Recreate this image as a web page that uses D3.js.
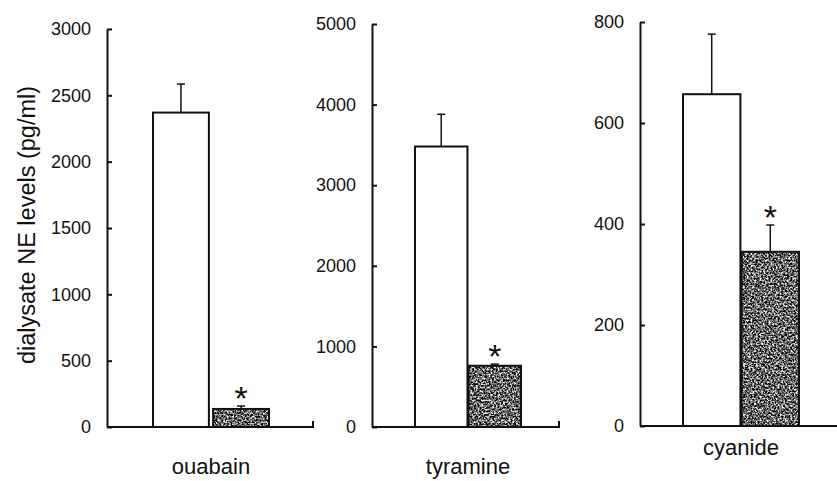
<!DOCTYPE html>
<html>
<head>
<meta charset="utf-8">
<script src="https://cdn.jsdelivr.net/npm/d3@7"></script>
<style>
  body { margin: 0; background: #fff; }
  svg { display: block; font-family: "Liberation Sans", Arial, sans-serif; }
  .tick text { font-size: 18px; fill: #111; }
</style>
</head>
<body>
<svg></svg>
<script>
// DATA
var categories = ["ouabain", "tyramine", "cyanide"];
var groups = ["control", "treated"];
var controlMeans = [2370, 3480, 657];
var controlErrors = [215, 400, 119];
var treatedMeans = [136, 760, 345];
var treatedErrors = [22, 20, 53];
var yMaxes = [3000, 5000, 800];
var tickSteps = [500, 1000, 200];
var yLabel = "dialysate NE levels (pg/ml)";

// LAYOUT (one entry per panel)
var panels = [
	{axisX: 107, top: 29, bottom: 427, right: 313, barL: 153, barR: 269, pad: 0.07, labelY: 474, endTick: true},
	{axisX: 372, top: 24, bottom: 427, right: 559, barL: 415, barR: 521, pad: 0.02, labelY: 474, endTick: true},
	{axisX: 640, top: 22, bottom: 426, right: 837, barL: 683, barR: 799, pad: 0.02, labelY: 455, endTick: false}
];

var width = 837, height = 481;
var svg = d3.select("svg").attr("width", width).attr("height", height);

// grainy grey fill for the treated bars
var defs = svg.append("defs");
var grain = defs.append("filter")
	.attr("id", "grain")
	.attr("x", 0).attr("y", 0).attr("width", 1).attr("height", 1)
	.attr("color-interpolation-filters", "sRGB");
grain.append("feTurbulence")
	.attr("type", "fractalNoise")
	.attr("baseFrequency", 0.55)
	.attr("numOctaves", 2)
	.attr("seed", 7)
	.attr("result", "noise");
grain.append("feColorMatrix")
	.attr("in", "noise")
	.attr("type", "matrix")
	.attr("values", "2.6 0 0 0 -0.9  2.6 0 0 0 -0.9  2.6 0 0 0 -0.9  0 0 0 0 1")
	.attr("result", "grey");
grain.append("feComposite")
	.attr("in", "grey")
	.attr("in2", "SourceGraphic")
	.attr("operator", "in");

categories.forEach(function(cat, i) {
	var p = panels[i];
	var g = svg.append("g");

	var y = d3.scaleLinear().domain([0, yMaxes[i]]).range([p.bottom, p.top]);
	var x = d3.scaleBand().domain(groups).range([p.barL, p.barR]).paddingInner(p.pad).paddingOuter(0);

	var rows = [
		{key: "control", mean: controlMeans[i], err: controlErrors[i]},
		{key: "treated", mean: treatedMeans[i], err: treatedErrors[i]}
	];

	// error bars (drawn first, bar tops cover the base)
	var eb = g.selectAll(".err").data(rows).enter().append("g").attr("class", "err");
	eb.append("line")
		.attr("x1", function(d) { return x(d.key) + x.bandwidth() / 2; })
		.attr("x2", function(d) { return x(d.key) + x.bandwidth() / 2; })
		.attr("y1", function(d) { return y(d.mean); })
		.attr("y2", function(d) { return y(d.mean + d.err); })
		.attr("stroke", "#111").attr("stroke-width", 1.5);
	eb.append("line")
		.attr("x1", function(d) { return x(d.key) + x.bandwidth() / 2 - 4; })
		.attr("x2", function(d) { return x(d.key) + x.bandwidth() / 2 + 4; })
		.attr("y1", function(d) { return y(d.mean + d.err); })
		.attr("y2", function(d) { return y(d.mean + d.err); })
		.attr("stroke", "#111").attr("stroke-width", 1.5);

	// bars
	g.selectAll(".barfill").data(rows).enter().append("rect")
		.attr("class", "barfill")
		.attr("x", function(d) { return x(d.key); })
		.attr("y", function(d) { return y(d.mean); })
		.attr("width", x.bandwidth())
		.attr("height", function(d) { return y(0) - y(d.mean); })
		.attr("fill", function(d) { return d.key == "control" ? "#fff" : "#666"; })
		.attr("filter", function(d) { return d.key == "treated" ? "url(#grain)" : null; });
	g.selectAll(".barline").data(rows).enter().append("rect")
		.attr("class", "barline")
		.attr("x", function(d) { return x(d.key); })
		.attr("y", function(d) { return y(d.mean); })
		.attr("width", x.bandwidth())
		.attr("height", function(d) { return y(0) - y(d.mean); })
		.attr("fill", "none")
		.attr("stroke", "#111").attr("stroke-width", 2);

	// significance star, centred ~15px above the error cap
	g.append("text")
		.attr("x", x("treated") + x.bandwidth() / 2)
		.attr("y", y(rows[1].mean + rows[1].err) - 15 + 19)
		.attr("text-anchor", "middle")
		.style("font-size", "34px")
		.style("fill", "#111")
		.text("*");

	// y axis, ticks pointing inwards
	var yAxis = d3.axisLeft(y)
		.tickValues(d3.range(0, yMaxes[i] + 1, tickSteps[i]))
		.tickFormat(d3.format("d"))
		.tickSizeInner(-5)
		.tickSizeOuter(0)
		.tickPadding(16);
	var ya = g.append("g").attr("transform", "translate(" + p.axisX + ",0)").call(yAxis);
	ya.select(".domain").attr("stroke", "#111").attr("stroke-width", 2);
	ya.selectAll(".tick line").attr("stroke", "#111").attr("stroke-width", 2);

	// x axis line
	var xPath = "M" + p.axisX + "," + y(0) + "H" + p.right + (p.endTick ? "V" + (y(0) - 6) : "");
	g.append("path").attr("d", xPath).attr("fill", "none").attr("stroke", "#111").attr("stroke-width", 2);

	// category label
	g.append("text")
		.attr("x", (p.barL + p.barR) / 2)
		.attr("y", p.labelY)
		.attr("text-anchor", "middle")
		.style("font-size", "22px")
		.style("fill", "#111")
		.text(cat);
});

// Y LABEL
svg.append("text")
	.attr("transform", "translate(35,225) rotate(-90)")
	.attr("text-anchor", "middle")
	.style("font-size", "23.5px")
	.style("fill", "#111")
	.text(yLabel);
</script>
</body>
</html>
